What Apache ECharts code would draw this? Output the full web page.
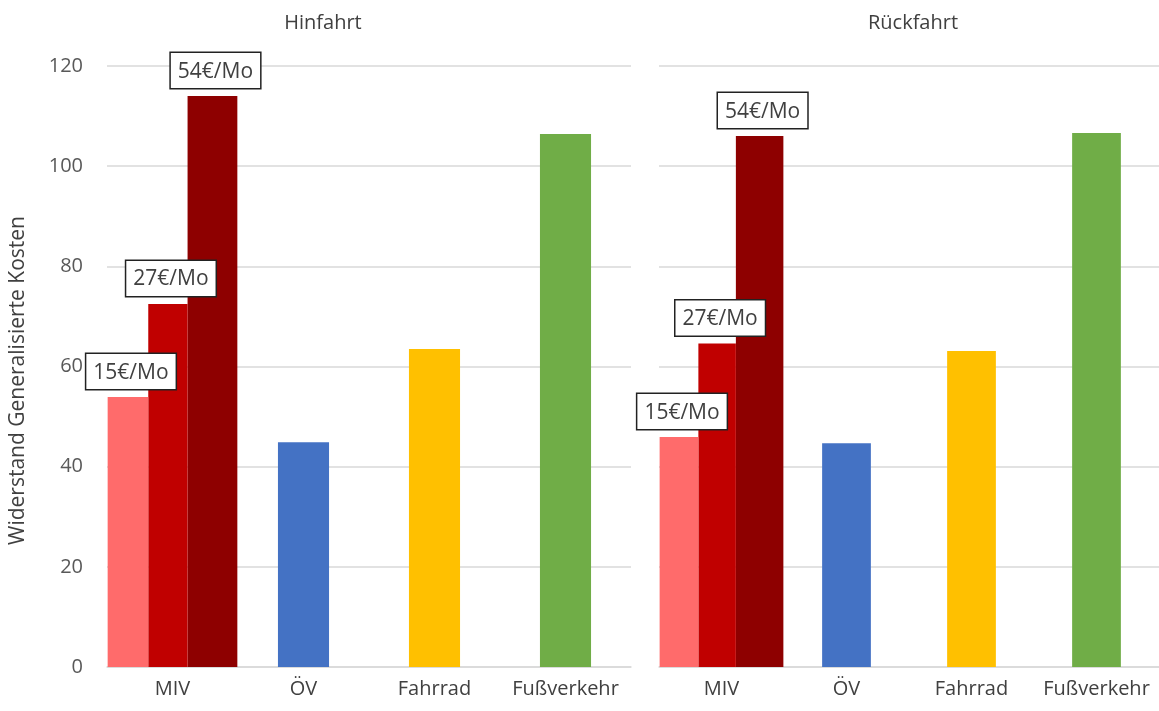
<!DOCTYPE html>
<html>
<head>
<meta charset="utf-8">
<script src="https://cdn.jsdelivr.net/npm/echarts@6/dist/echarts.min.js"></script>
<style>
html,body{margin:0;padding:0;background:#fff;}
#chart{width:1159px;height:711px;}
</style>
</head>
<body>
<div id="chart"></div>
<script>
// ---- data ----
const categories = ['MIV', 'ÖV', 'Fahrrad', 'Fußverkehr'];
const panelTitles = ['Hinfahrt', 'Rückfahrt'];
const mivLabels = ['15€/Mo', '27€/Mo', '54€/Mo'];
// values per panel: [Hinfahrt, Rückfahrt]
const miv15 = [53.9, 45.9];
const miv27 = [72.5, 64.6];
const miv54 = [114.0, 106.0];
const oev = [44.9, 44.7];
const fahrrad = [63.5, 63.1];
const fuss = [106.4, 106.6];
const yMin = 0, yMax = 120, yInterval = 20;
const yTitle = 'Widerstand Generalisierte Kosten';

// ---- styling ----
const mivColors = ['#FF6B6B', '#C00000', '#8E0000'];
const otherColors = ['#4472C4', '#FFC000', '#70AD47'];
const mivWidths = ['31%', '30%', '38%'];
const FONT = '"Open Sans", "Liberation Sans", sans-serif';

const grids = [
  { left: 107, width: 524, top: 66, bottom: 44 },
  { left: 659, width: 501, top: 66, bottom: 44 }
];

const xAxes = [], yAxes = [], series = [];
grids.forEach((g, p) => {
  xAxes.push({
    type: 'category', gridIndex: p, data: categories,
    axisLine: { lineStyle: { color: '#D9D9D9', width: 1.5 } },
    axisTick: { show: false },
    axisLabel: { interval: 0, color: '#404040', fontSize: 20, fontFamily: FONT, margin: 12 }
  });
  xAxes.push({
    type: 'category', gridIndex: p, data: categories, show: false
  });
  yAxes.push({
    type: 'value', gridIndex: p, min: yMin, max: yMax, interval: yInterval,
    name: p === 0 ? yTitle : '',
    nameLocation: 'middle', nameGap: 78, nameRotate: 90,
    nameTextStyle: { color: '#404040', fontSize: 21, fontFamily: FONT, padding: [0, 0, 0, -28] },
    axisLine: { show: false }, axisTick: { show: false },
    axisLabel: { show: p === 0, color: '#595959', fontSize: 20, fontFamily: FONT, margin: 24 },
    splitLine: { lineStyle: { color: '#D9D9D9', width: 1.5 } }
  });
  const mivVals = [miv15[p], miv27[p], miv54[p]];
  mivVals.forEach((v, k) => {
    series.push({
      type: 'bar', xAxisIndex: 2 * p, yAxisIndex: p,
      data: [v, '-', '-', '-'],
      barWidth: mivWidths[k], barGap: '0%',
      itemStyle: { color: mivColors[k] },
      label: {
        show: true, position: 'top', distance: 8,
        formatter: mivLabels[k],
        color: '#404040', fontSize: 21, fontFamily: FONT,
        backgroundColor: '#fff', borderColor: '#222', borderWidth: 1.5,
        padding: [8, 7, 6, 7], offset: [3, 0]
      },
      z: 10 - k
    });
  });
  series.push({
    type: 'bar', xAxisIndex: 2 * p + 1, yAxisIndex: p,
    data: [
      '-',
      { value: oev[p], itemStyle: { color: otherColors[0] } },
      { value: fahrrad[p], itemStyle: { color: otherColors[1] } },
      { value: fuss[p], itemStyle: { color: otherColors[2] } }
    ],
    barWidth: '39%'
  });
});

const chart = echarts.init(document.getElementById('chart'), null, { renderer: 'canvas' });
chart.setOption({
  animation: false,
  backgroundColor: '#fff',
  title: [
    { text: panelTitles[0], left: 318, top: 8, textAlign: 'center',
      textStyle: { color: '#404040', fontSize: 20, fontWeight: 'normal', fontFamily: FONT } },
    { text: panelTitles[1], left: 908, top: 8, textAlign: 'center',
      textStyle: { color: '#404040', fontSize: 20, fontWeight: 'normal', fontFamily: FONT } }
  ],
  grid: grids,
  xAxis: xAxes,
  yAxis: yAxes,
  series: series
});
</script>
</body>
</html>
